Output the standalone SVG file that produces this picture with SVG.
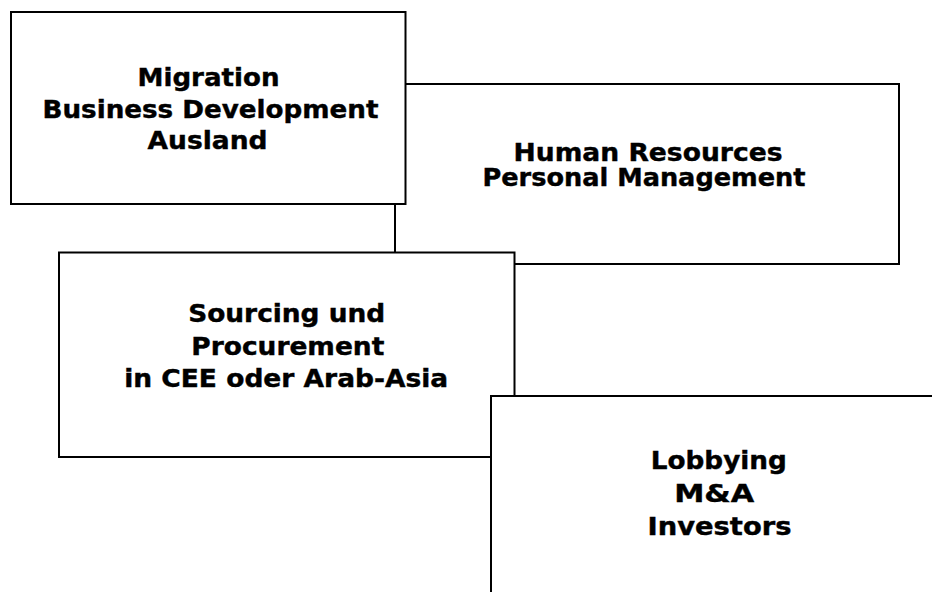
<svg xmlns="http://www.w3.org/2000/svg" width="932" height="592" viewBox="0 0 932 592">
  <style>
    .box { fill: #ffffff; stroke: #000000; stroke-width: 2; }
    .lbl { font-family: "DejaVu Sans", Verdana, sans-serif; font-weight: bold; font-size: 24px; fill: #000000; stroke: #000000; stroke-width: 0.4; text-anchor: middle; }
  </style>
  <rect width="932" height="592" fill="#ffffff"/>

  <!-- back to front: HR, Migration, Sourcing, Lobbying -->
  <g id="node-hr">
    <rect class="box" x="395" y="84" width="504" height="180"/>
    <text class="lbl" x="648" y="160.5" textLength="269" lengthAdjust="spacingAndGlyphs">Human Resources</text>
    <text class="lbl" x="644" y="185.5" textLength="323" lengthAdjust="spacingAndGlyphs">Personal Management</text>
  </g>

  <g id="node-migration">
    <rect class="box" x="11" y="12" width="394.5" height="192"/>
    <text class="lbl" x="208.5" y="86" textLength="142" lengthAdjust="spacingAndGlyphs">Migration</text>
    <text class="lbl" x="210.5" y="118" textLength="336" lengthAdjust="spacingAndGlyphs">Business Development</text>
    <text class="lbl" x="207.5" y="149" textLength="120" lengthAdjust="spacingAndGlyphs">Ausland</text>
  </g>

  <g id="node-sourcing">
    <rect class="box" x="59" y="252.5" width="455.5" height="204.5"/>
    <text class="lbl" x="286.7" y="321.5" textLength="197" lengthAdjust="spacingAndGlyphs">Sourcing und</text>
    <text class="lbl" x="287.8" y="354.5" textLength="193" lengthAdjust="spacingAndGlyphs">Procurement</text>
    <text class="lbl" x="286.2" y="386.5" textLength="324" lengthAdjust="spacingAndGlyphs">in CEE oder Arab-Asia</text>
  </g>

  <g id="node-lobbying">
    <rect class="box" x="491" y="396" width="470" height="230"/>
    <text class="lbl" x="718.8" y="469" textLength="136" lengthAdjust="spacingAndGlyphs">Lobbying</text>
    <text class="lbl" x="714.2" y="501.5" textLength="80" lengthAdjust="spacingAndGlyphs">M&amp;A</text>
    <text class="lbl" x="719.5" y="535" textLength="144" lengthAdjust="spacingAndGlyphs">Investors</text>
  </g>

  <g id="connectors"/>
</svg>
